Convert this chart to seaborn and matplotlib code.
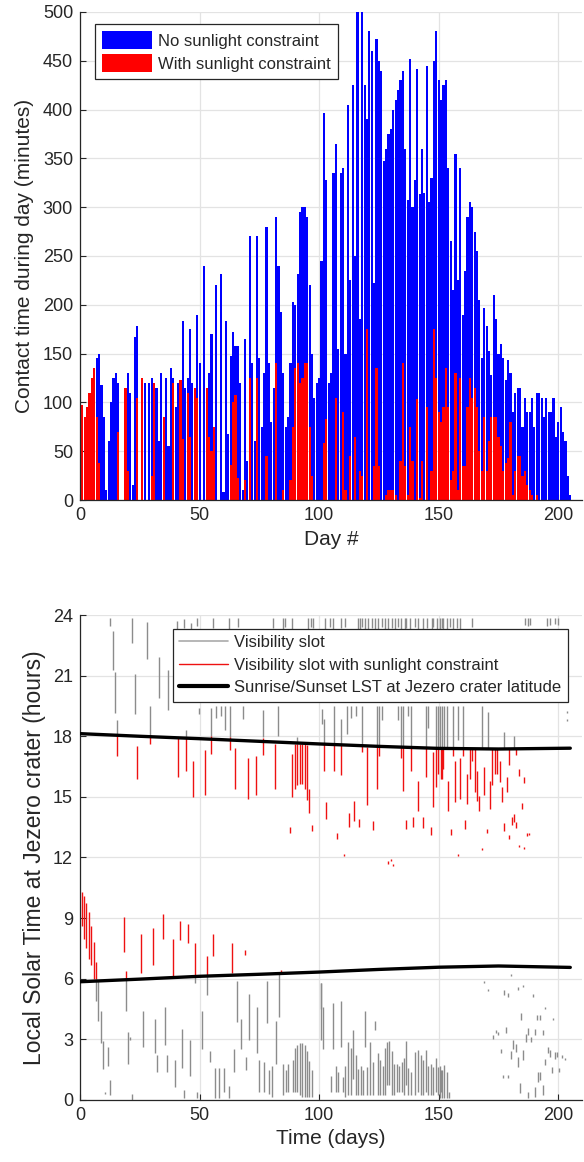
import numpy as np
import pandas as pd
import matplotlib
matplotlib.use("Agg")
import matplotlib.pyplot as plt
import seaborn as sns
from matplotlib.patches import Patch
from matplotlib.lines import Line2D

# ---------------- top panel data: contact time per day (minutes) ----------------
days = list(range(1, 206))
no_sun = [97, 85, 95, 110, 125, 135, 145, 150, 118, 85,
          10, 60, 100, 125, 130, 120, 0, 0, 115, 130,
          110, 15, 167, 178, 0, 125, 120, 0, 120, 125,
          120, 115, 60, 130, 85, 125, 55, 135, 125, 95,
          120, 123, 183, 115, 125, 175, 120, 115, 190, 140,
          0, 240, 115, 130, 170, 75, 220, 0, 232, 8,
          183, 68, 148, 172, 158, 158, 120, 10, 165, 40,
          270, 140, 60, 270, 145, 75, 130, 280, 140, 80,
          115, 290, 240, 193, 130, 75, 85, 140, 203, 200,
          232, 295, 300, 300, 290, 220, 150, 105, 120, 125,
          245, 397, 328, 120, 130, 335, 365, 155, 335, 340,
          150, 405, 225, 425, 250, 500, 185, 500, 425, 390,
          480, 460, 222, 472, 450, 440, 347, 360, 375, 380,
          400, 410, 420, 430, 440, 360, 307, 452, 300, 328,
          442, 313, 360, 315, 445, 305, 330, 450, 480, 430,
          410, 425, 430, 340, 265, 215, 355, 225, 340, 190,
          235, 290, 305, 300, 275, 255, 205, 145, 197, 178,
          153, 128, 210, 185, 150, 160, 145, 123, 143, 130,
          90, 110, 115, 115, 75, 105, 90, 90, 105, 75,
          110, 110, 105, 85, 105, 90, 90, 105, 65, 80,
          95, 70, 60, 25, 5]
with_sun = [97, 85, 95, 110, 125, 135, 85, 38, 0, 0,
            0, 0, 0, 0, 0, 70, 0, 0, 115, 30,
            0, 0, 0, 105, 0, 125, 0, 0, 0, 25,
            120, 0, 0, 0, 85, 0, 0, 0, 120, 0,
            0, 123, 63, 0, 110, 65, 0, 115, 105, 0,
            0, 0, 115, 65, 50, 75, 0, 0, 0, 0,
            0, 0, 36, 100, 108, 23, 0, 0, 20, 0,
            125, 0, 0, 125, 0, 0, 0, 45, 0, 0,
            0, 140, 0, 0, 10, 0, 0, 20, 75, 135,
            140, 120, 125, 140, 140, 75, 25, 0, 0, 0,
            0, 58, 83, 0, 0, 0, 105, 0, 0, 90,
            10, 0, 45, 0, 65, 0, 30, 25, 0, 175,
            0, 0, 35, 135, 35, 0, 0, 5, 10, 10,
            10, 5, 0, 40, 140, 35, 5, 75, 40, 0,
            103, 2, 40, 0, 95, 0, 30, 175, 125, 90,
            80, 95, 135, 95, 20, 30, 130, 10, 125, 35,
            35, 95, 125, 105, 115, 95, 50, 30, 85, 30,
            60, 85, 85, 85, 65, 55, 30, 38, 43, 80,
            5, 30, 45, 45, 25, 30, 15, 10, 5, 0,
            5, 0, 0, 0, 0, 0, 0, 0, 0, 0,
            0, 0, 0, 0, 0]

# ---------------- bottom panel data: visibility slots (day, start h, end h) ----------------
gray_day = [12.7, 13.7, 14.5, 15.6, 21.9, 22.9, 28.2, 29.2, 33.0, 37.0, 40.6, 43.6, 44.3, 46.6, 48.8, 49.6,
            54.7, 57.0, 58.8, 60.5, 62.9, 68.2, 76.7, 82.6, 90.8,
            101.0, 102.1, 106.1, 109.3, 111.5, 113.5, 115.6, 117.7, 124.0, 125.0, 126.1, 133.0, 134.2,
            135.2, 137.2, 138.3, 144.5, 145.6, 148.7, 149.8,
            150.5, 151.5, 152.4, 153.3, 156.0, 157.9, 160.0, 168.0, 170.4, 177.4, 181.6, 203.5, 203.7,
            # morning slots
            6.7, 7.7, 8.6, 9.6, 10.6, 11.7, 12.7, 19.1, 20.1, 21.1, 21.9, 26.2, 31.4, 32.4, 35.6, 36.5,
            39.6, 42.7, 43.6, 45.9, 48.0, 49.0, 51.0,
            53.1, 65.8, 54.3, 56.3, 58.2, 60.1, 62.2, 64.3, 67.5, 69.6, 70.6, 73.8, 74.9, 77.0, 78.0,
            79.0, 80.1, 82.0, 83.1, 85.0, 86.0, 87.0, 89.1, 89.8, 90.8, 91.9, 92.9, 93.9, 94.8, 95.8,
            96.8, 100.6,
            100.7, 101.7, 104.9, 105.9, 106.9, 108.0, 109.0, 110.0, 111.0, 112.1, 113.1, 114.1, 115.2,
            116.3, 117.3, 118.3, 119.3, 120.2, 121.2, 122.3, 123.3, 124.4, 125.4, 126.5, 127.5, 128.4,
            129.3, 130.3, 131.4, 132.4, 133.4, 134.5, 135.6, 136.3, 137.2, 138.3, 140.0, 141.4, 142.4,
            143.5, 144.5, 145.6, 146.6, 147.7, 148.7, 149.8, 150.8,
            150.5, 151.5, 152.4, 153.4, 154.3,
            168.9, 170.7, 177.1, 179.1, 180.2, 183.3, 185.4, 189.5, 194.4, 184.2, 191.2, 192.3, 197.7,
            172.8, 173.8, 174.9, 178.1, 175.9, 181.2, 182.2, 180.2, 183.3, 185.4, 186.3, 187.4, 188.4,
            190.2, 193.4, 195.5, 196.5, 198.6, 199.6, 194.4, 201.7, 202.7, 177.0, 179.1, 191.6, 192.3,
            197.5, 200.3, 184.0, 187.4, 190.2, 193.7]
gray_lo = [23.45, 21.26, 19.16, 18.0, 22.6, 19.1, 21.8, 18.0, 19.9, 19.3, 23.2, 23.35, 17.9, 23.3, 23.45, 19.1,
           18.0, 18.9, 19.0, 18.3, 17.95, 18.85, 17.95, 18.0, 17.6,
           18.6, 17.6, 17.6, 17.6, 18.1, 18.9, 19.0, 17.5, 17.45, 17.45, 18.8, 18.8, 17.45,
           17.45, 19.0, 17.45, 17.45, 18.4, 17.45, 17.45,
           17.4, 17.4, 17.4, 17.4, 17.4, 17.8, 17.4, 17.4, 17.4, 17.4, 17.4, 18.75, 19.15,
           4.9, 3.9, 2.8, 1.55, 0.3, 1.7, 0.25, 4.4, 1.8, 2.95, 0.0, 2.6, 2.3, 1.4, 2.7, 1.4,
           0.65, 1.6, 0.1, 1.2, 5.8, 0.1, 2.5,
           5.2, 3.85, 1.9, 0.1, 0.1, 0.4, 0.1, 1.4, 2.5, 1.5, 2.95, 2.3, 0.4, 0.4, 3.8,
           0.3, 0.15, 1.8, 4.1, 0.25, 0.4, 0.4, 0.4, 0.4, 0.4, 0.25, 0.15, 0.15, 0.15, 0.15,
           0.15, 2.95,
           4.5, 2.5, 0.4, 2.5, 0.4, 0.4, 2.6, 0.4, 0.15, 0.25, 0.25, 1.05, 0.25,
           0.25, 0.25, 0.25, 2.6, 0.25, 0.25, 0.25, 3.45, 0.25, 0.25, 0.25, 0.25, 0.75,
           0.75, 0.25, 0.25, 0.4, 0.4, 0.4, 0.25, 0.75, 0.25, 0.25, 0.25, 0.4, 0.25,
           0.25, 0.4, 0.25, 0.25, 0.25, 0.4, 0.25, 0.4,
           0.1, 0.1, 0.1, 0.1, 0.1,
           5.8, 5.4, 5.2, 5.1, 6.15, 5.45, 5.6, 5.1, 4.5, 3.95, 3.95, 3.95, 3.95,
           3.03, 3.31, 3.2, 3.33, 2.3, 2.54, 2.38, 2.05, 1.64, 1.97, 2.87, 3.2, 2.87,
           3.2, 3.2, 2.3, 2.13, 2.05, 2.13, 1.72, 2.1, 2.0, 1.07, 1.07, 0.9, 1.0,
           1.31, 1.4, 0.33, 0.08, 0.16, 0.25]
gray_hi = [23.85, 23.2, 21.2, 18.8, 23.85, 21.1, 23.65, 19.5, 21.9, 21.3, 23.7, 23.8, 18.3, 23.6, 23.85, 19.4,
           19.4, 19.5, 19.5, 19.5, 19.5, 19.5, 19.3, 19.5, 17.95,
           19.35, 18.85, 19.5, 18.85, 19.5, 19.5, 19.5, 19.5, 19.5, 19.5, 19.5, 19.5, 19.5,
           19.5, 19.5, 19.5, 19.5, 19.5, 19.5, 19.5,
           19.5, 19.5, 19.5, 19.5, 19.5, 19.5, 19.5, 19.5, 19.2, 18.2, 18.0, 18.85, 19.25,
           6.0, 5.9, 4.4, 2.9, 0.4, 2.6, 1.0, 6.0, 3.35, 3.1, 0.3, 4.4, 4.0, 2.2, 4.6, 2.2,
           2.0, 3.5, 0.5, 2.95, 6.1, 0.4, 4.4,
           6.15, 5.9, 2.4, 1.6, 1.6, 1.6, 0.7, 2.5, 4.0, 2.15, 5.25, 4.6, 2.0, 1.9, 5.9,
           1.5, 1.7, 3.9, 6.3, 1.8, 1.5, 1.8, 2.0, 2.55, 2.7, 2.8, 2.8, 2.7, 2.4, 1.95,
           1.5, 5.8,
           5.8, 4.6, 1.2, 4.8, 1.7, 1.4, 4.9, 1.15, 1.7, 2.85, 2.55, 3.45, 2.2,
           1.55, 1.7, 1.5, 4.4, 1.65, 2.85, 1.9, 3.9, 2.3, 2.0, 1.7, 2.55, 2.85,
           2.9, 2.4, 1.8, 1.8, 1.7, 1.9, 2.1, 2.9, 1.6, 1.4, 2.35, 2.45, 2.2,
           1.97, 2.45, 1.7, 1.8, 1.65, 2.1, 1.65, 1.5,
           1.7, 1.5, 1.75, 1.4, 0.4,
           5.9, 5.5, 5.45, 5.3, 6.25, 5.6, 5.7, 5.25, 4.6, 4.3, 4.2, 4.2, 4.05,
           3.2, 3.48, 3.35, 3.6, 2.54, 2.95, 2.79, 2.41, 2.13, 2.46, 3.28, 3.56, 3.11,
           3.5, 3.44, 2.62, 2.46, 2.38, 2.38, 2.05, 2.2, 2.1, 1.23, 1.23, 1.39, 1.4,
           1.64, 1.6, 0.82, 0.41, 0.66, 0.75]
# short slots just before midnight
late_day = [55.6, 62.2, 66.1, 80.8, 84.9, 85.9, 88.8, 95.4, 96.5, 97.5,
            102.4, 104.5, 105.9, 109.3, 110.7, 116.3, 117.0, 117.7, 119.1, 120.5, 121.9, 123.3,
            124.7, 126.1, 127.5, 128.9, 130.3, 131.7, 133.0, 134.4, 135.8, 136.5, 137.9, 140.0,
            141.4, 143.5, 144.9, 147.0, 147.7, 149.1, 150.5, 151.2,
            151.9, 153.3, 154.7, 156.1, 157.5, 158.9, 163.7, 186.0, 187.2, 188.1, 195.1, 196.6,
            198.6, 200.0]
late_lo = [23.35, 23.3, 23.4, 23.35, 23.2, 23.4, 23.3, 23.2, 23.4, 23.35,
           23.3, 23.4, 23.2, 23.35, 23.4, 23.2, 23.3, 23.4, 23.3, 23.2, 23.35, 23.3,
           23.2, 23.4, 23.3, 23.3, 23.35, 23.2, 23.4, 23.3, 23.2, 23.35, 23.3, 23.4,
           23.2, 23.3, 23.35, 23.2, 23.4, 23.3, 23.2, 23.35,
           23.3, 23.2, 23.4, 23.3, 23.35, 23.3, 23.4, 23.5, 23.45, 23.5, 23.45, 23.5,
           23.55, 23.5]
late_hi = [23.85] * len(late_day)

red_day = [15.6, 23.7, 29.2, 41.0, 44.3, 47.4,
           0.7, 1.7, 2.6, 3.6, 4.7, 5.7, 6.7, 18.3, 19.1, 25.4, 30.4, 34.9, 38.9, 42.0, 45.2, 48.0,
           52.4, 54.7, 62.9, 64.9, 70.2, 73.4, 76.7, 81.6, 87.7, 88.8, 89.8, 90.8, 91.9, 92.9, 93.9,
           94.8, 95.8, 96.9,
           53.1, 55.4, 63.6, 68.8, 84.1,
           102.1, 103.0, 106.1, 107.3, 109.3, 110.3, 112.4, 114.5, 116.6, 117.7, 119.8, 122.6, 124.0,
           125.0, 128.8, 129.9, 130.9, 134.2, 135.2, 136.3, 138.3, 139.3, 141.4, 143.5, 144.5, 146.6,
           147.7, 148.7, 149.8, 151.5,
           151.0, 151.8, 153.7, 155.0, 156.0, 156.8, 157.9, 159.0, 160.0, 161.0, 162.0, 163.0, 164.0,
           165.0, 165.9, 166.9, 168.0, 169.0, 170.0, 171.4, 172.4, 173.5, 174.5, 175.5, 176.4, 177.4,
           178.5, 179.5, 179.5, 180.6, 181.6, 182.5, 182.5, 183.5, 183.5, 184.6, 185.8, 185.8, 186.9,
           187.8]
red_lo = [17.0, 15.9, 17.6, 16.0, 16.3, 15.0,
          8.6, 7.95, 7.5, 7.0, 6.7, 6.0, 6.0, 7.3, 6.0, 6.3, 6.7, 7.95, 6.1, 7.9, 7.75, 6.1,
          15.1, 17.1, 17.3, 15.4, 14.9, 15.1, 17.05, 15.4, 13.2, 15.0, 15.4, 15.6, 15.65, 15.65, 15.4,
          14.85, 14.2, 13.3,
          6.15, 7.1, 6.3, 7.15, 6.3,
          16.3, 13.9, 16.3, 12.9, 16.1, 12.05, 13.5, 13.8, 13.5, 17.2, 14.6, 13.35, 15.4,
          17.0, 11.7, 11.85, 11.6, 16.9, 15.3, 13.4, 16.3, 13.5, 14.3, 13.45, 16.0, 13.1,
          14.5, 15.5, 16.15, 15.9,
          15.9, 16.4, 14.3, 13.1, 17.0, 14.75, 12.05, 14.9, 17.0, 13.4, 14.65, 15.9, 16.8,
          15.25, 14.8, 14.3, 12.35, 15.1, 13.2, 14.4, 15.6, 16.15, 16.15, 15.75, 14.75, 13.3,
          15.25, 16.6, 12.9, 13.6, 13.75, 17.05, 13.45, 16.05, 12.5, 14.4, 15.7, 12.4, 13.05,
          13.1]
red_hi = [18.0, 17.5, 18.0, 17.9, 17.9, 16.8,
          10.3, 10.1, 9.75, 9.3, 8.6, 7.8, 6.85, 9.05, 6.4, 8.2, 8.5, 9.2, 7.95, 8.85, 8.7, 7.75,
          17.3, 18.0, 17.95, 17.4, 16.9, 17.0, 17.9, 17.6, 13.5, 17.1, 17.6, 17.6, 17.6, 17.6, 17.6,
          17.55, 15.4, 13.6,
          7.1, 8.2, 7.75, 7.4, 6.45,
          17.6, 14.75, 17.6, 13.2, 17.6, 12.15, 14.2, 14.8, 13.9, 17.5, 17.45, 13.8, 17.45,
          17.45, 11.85, 11.95, 11.7, 17.45, 17.45, 13.85, 17.45, 14.0, 15.8, 14.0, 17.45, 13.5,
          17.2, 17.45, 17.45, 17.45,
          17.4, 17.4, 15.8, 13.4, 17.4, 16.8, 12.15, 16.9, 17.4, 13.85, 16.15, 17.4, 17.35,
          17.35, 16.3, 15.05, 12.45, 16.5, 13.4, 15.8, 17.35, 17.35, 17.35, 16.8, 15.5, 13.7,
          16.0, 17.35, 13.1, 14.0, 14.15, 17.35, 13.75, 16.4, 12.6, 14.7, 16.0, 12.5, 13.2,
          13.2]

sun_day = [0, 25, 50, 75, 100, 125, 150, 175, 205]
sunset = [18.13, 18.0, 17.88, 17.75, 17.62, 17.5, 17.4, 17.37, 17.41]
sunrise = [5.85, 5.98, 6.12, 6.22, 6.33, 6.46, 6.57, 6.63, 6.56]

# ---------------- style ----------------
sns.set_style("ticks")
plt.rcParams["font.family"] = ["Liberation Sans", "DejaVu Sans"]
plt.rcParams["xtick.direction"] = "in"
plt.rcParams["ytick.direction"] = "in"
TXT = "#262626"
GRID = "#e3e3e3"

fig = plt.figure(figsize=(5.84, 11.62), dpi=100)
ax1 = fig.add_axes([0.137, 0.5697, 0.86, 0.42])
ax2 = fig.add_axes([0.137, 0.0534, 0.86, 0.4173])

# ---------------- top panel ----------------
bars = pd.DataFrame({"day": days, "no_sun": no_sun, "with_sun": with_sun})
sns.barplot(data=bars, x="day", y="no_sun", native_scale=True, color="#0000ff",
            saturation=1, width=0.9, linewidth=0, errorbar=None, ax=ax1)
sns.barplot(data=bars, x="day", y="with_sun", native_scale=True, color="#ff0000",
            saturation=1, width=0.9, linewidth=0, errorbar=None, ax=ax1)
ax1.set_xlim(0, 210)
ax1.set_ylim(0, 500)
ax1.set_xticks([0, 50, 100, 150, 200])
ax1.set_yticks(np.arange(0, 501, 50))
ax1.set_xlabel("Day #", fontsize=15, color=TXT, labelpad=4)
ax1.set_ylabel("Contact time during day (minutes)", fontsize=15, color=TXT, labelpad=6)
leg1 = ax1.legend(handles=[Patch(facecolor="#0000ff", edgecolor="none", label="No sunlight constraint"),
                           Patch(facecolor="#ff0000", edgecolor="none", label="With sunlight constraint")],
                  loc="upper left", bbox_to_anchor=(0.03, 0.975), borderaxespad=0,
                  fontsize=12, handlelength=3.0, handleheight=1.3, handletextpad=0.4,
                  labelspacing=0.3, borderpad=0.4, fancybox=False, framealpha=1,
                  edgecolor="#262626")
leg1.get_frame().set_linewidth(0.9)

# ---------------- bottom panel ----------------
gray_df = pd.DataFrame({"day": gray_day + late_day, "lo": gray_lo + late_lo, "hi": gray_hi + late_hi})
red_df = pd.DataFrame({"day": red_day, "lo": red_lo, "hi": red_hi})
sun_df = pd.DataFrame({"day": sun_day, "sunset": sunset, "sunrise": sunrise})

ax2.vlines(gray_df["day"], gray_df["lo"], gray_df["hi"], color="#8c8c8c", linewidth=1.0, zorder=2)
ax2.vlines(red_df["day"], red_df["lo"], red_df["hi"], color="#ee1111", linewidth=1.0, zorder=3)
sns.lineplot(data=sun_df, x="day", y="sunset", color="black", linewidth=2.4, ax=ax2, zorder=4)
sns.lineplot(data=sun_df, x="day", y="sunrise", color="black", linewidth=2.4, ax=ax2, zorder=4)
ax2.set_xlim(0, 210)
ax2.set_ylim(0, 24)
ax2.set_xticks([0, 50, 100, 150, 200])
ax2.set_yticks(np.arange(0, 25, 3))
ax2.set_xlabel("Time (days)", fontsize=15, color=TXT, labelpad=4)
ax2.set_ylabel("Local Solar Time at Jezero crater (hours)", fontsize=16.5, color=TXT, labelpad=5)
leg2 = ax2.legend(handles=[Line2D([], [], color="#aaaaaa", lw=1.2, label="Visibility slot"),
                           Line2D([], [], color="#ee1111", lw=1.0, label="Visibility slot with sunlight constraint"),
                           Line2D([], [], color="black", lw=3.0, label="Sunrise/Sunset LST at Jezero crater latitude")],
                  loc="upper right", bbox_to_anchor=(0.972, 0.972), borderaxespad=0,
                  fontsize=12, handlelength=2.9, handletextpad=0.4, labelspacing=0.45,
                  borderpad=0.4, fancybox=False, framealpha=1, edgecolor="#262626")
leg2.get_frame().set_linewidth(0.9)
leg2.set_zorder(10)

for ax in (ax1, ax2):
    ax.grid(True, color=GRID, linewidth=0.9)
    ax.set_axisbelow(True)
    for s in ("top", "right"):
        ax.spines[s].set_visible(False)
    for s in ("left", "bottom"):
        ax.spines[s].set_color(TXT)
        ax.spines[s].set_linewidth(0.9)
    ax.tick_params(axis="both", labelsize=13, colors=TXT, length=4, width=0.8,
                   direction="in", pad=5)

fig.savefig("out.png", dpi=100)
